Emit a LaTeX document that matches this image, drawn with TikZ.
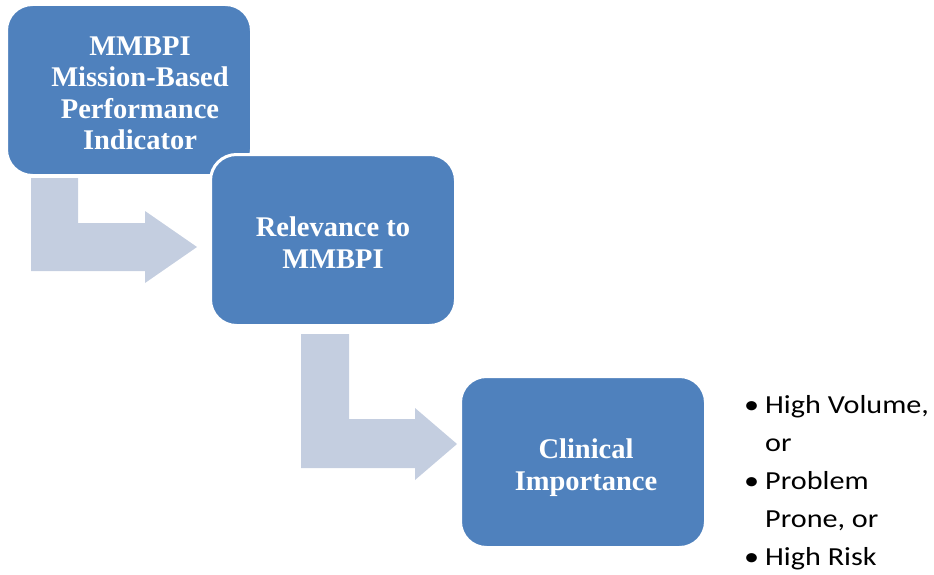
\documentclass[tikz,border=0pt]{standalone}
\usepackage{fontspec}
\usepackage{tikz}
\usepackage{xcolor}
\usetikzlibrary{positioning,calc}
\setmainfont{Liberation Serif}
\newfontfamily\listfont[FakeStretch=1.16]{Carlito}
\definecolor{stepblue}{HTML}{4F81BD}
\definecolor{flow}{HTML}{C4CEE0}
\definecolor{ink}{HTML}{000000}
\newcommand{\stagetext}[2][0pt]{\hspace*{#1}%
  \raisebox{-6pt}[\height][\depth]{\begin{tabular}{@{}c@{}}#2\end{tabular}}}
\tikzset{
  stage/.style={rectangle, rounded corners=26pt, draw=white, line width=3pt,
                fill=stepblue, text=white, align=center, inner sep=0pt,
                minimum width=245pt, minimum height=171pt,
                font=\fontsize{28.5}{31.5}\selectfont\bfseries},
  bentarrow/.style={fill=flow, draw=none}
}

\begin{document}
\begin{tikzpicture}[x=1pt,y=-1pt]
  \useasboundingbox (0,0) rectangle (934,575);

  % bent arrows between the stages
  \draw[bentarrow] (31,178) -- (78,178) -- (78,223) -- (145,223) -- (145,211)
    -- (197,247) -- (145,283) -- (145,271) -- (31,271) -- cycle;
  \draw[bentarrow] (301,334) -- (349,334) -- (349,419) -- (415,419) -- (415,408)
    -- (457,444) -- (415,480) -- (415,468) -- (301,468) -- cycle;

  % stages
  \node[stage] (mmbpi) at (129,90) {\stagetext[22pt]{MMBPI\\Mission-Based\\Performance\\Indicator}};
  \node[stage] (relev) at (333,240) {\stagetext{Relevance to\\MMBPI}};
  \node[stage] (clin) at (583,462) {\stagetext[6pt]{Clinical\\Importance}};

  % criteria
  \node[anchor=north west, inner sep=0pt, text=ink,
        font=\listfont\fontsize{26}{38}\selectfont] (crit) at (744,387) {%
    \begin{tabular}{@{}l@{\hspace{6pt}}l@{}}
      \textbullet & High Volume,\\
                  & or\\
      \textbullet & Problem\\
                  & Prone, or\\
      \textbullet & High Risk
    \end{tabular}};
\end{tikzpicture}
\end{document}
